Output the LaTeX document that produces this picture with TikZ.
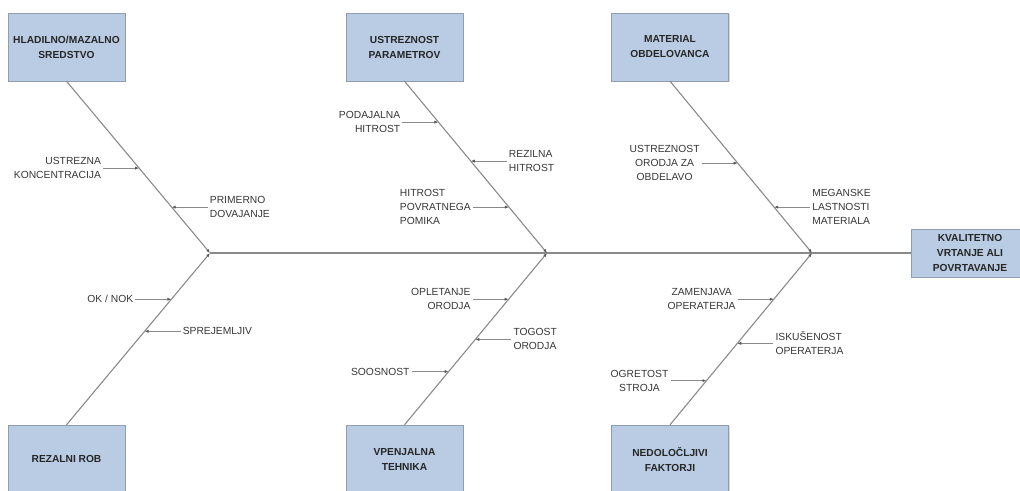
\documentclass[tikz,border=0pt]{standalone}
\usepackage{fontspec}
\setmainfont{Liberation Sans}
\usetikzlibrary{shapes,arrows.meta,positioning,shadows}

\definecolor{boxfill}{HTML}{B9CCE3}
\definecolor{boxline}{HTML}{8E9DB0}
\definecolor{boneline}{HTML}{8A8A8A}
\definecolor{labeltext}{HTML}{363636}

\begin{document}
\begin{tikzpicture}[x=1pt, y=-1pt, >={Latex[length=4pt,width=3.2pt,color=black!65]},
    font=\fontsize{10.3}{14}\selectfont]
    \tikzstyle{cause} = [draw=boxline, fill=boxfill, rectangle, 
    minimum width=117pt, minimum height=68pt, align=center,
    text=black!85, font=\fontsize{10.2}{15}\selectfont\bfseries,
    drop shadow={shadow xshift=1pt, shadow yshift=-1pt, opacity=0.3}]
    \tikzstyle{effect} = [cause, minimum width=118pt, minimum height=48pt]
    \tikzstyle{bone} = [draw=boneline, line width=1.1pt]
    \tikzstyle{sub} = [draw=boneline, line width=0.8pt, ->]
    \tikzstyle{lbl} = [inner sep=2pt, text=labeltext]

    \useasboundingbox (0,0) rectangle (1020,490);

    \node [cause] (hladilno) at (66.5,47) {HLADILNO/MAZALNO\\SREDSTVO};
    \node [cause] (parametri) at (404.5,47) {USTREZNOST\\PARAMETROV};
    \node [cause] (material) at (670,47) {MATERIAL\\OBDELOVANCA};
    \node [cause] (rezalni) at (66.5,459) {REZALNI ROB};
    \node [cause] (vpenjalna) at (404.5,459) {VPENJALNA\\TEHNIKA};
    \node [cause] (faktorji) at (670,459) {NEDOLOČLJIVI\\FAKTORJI};
    \node [effect] (kvaliteta) at (970,253) {KVALITETNO\\VRTANJE ALI\\POVRTAVANJE};

    \coordinate (j1) at (210,253);
    \coordinate (j2) at (547,253);
    \coordinate (j3) at (812,253);

    % spine and bones
    \draw [bone] (j1) -- (kvaliteta.west);
    \draw [bone,->] (hladilno.south) -- (j1);
    \draw [bone,->] (rezalni.north) -- (j1);
    \draw [bone,->] (parametri.south) -- (j2);
    \draw [bone,->] (vpenjalna.north) -- (j2);
    \draw [bone,->] (material.south) -- (j3);
    \draw [bone,->] (faktorji.north) -- (j3);

    % points on the bones
    \path (hladilno.south) -- (j1) coordinate [pos=0.506] (k1) coordinate [pos=0.733] (k2);
    \path (rezalni.north) -- (j1) coordinate [pos=0.731] (k3) coordinate [pos=0.544] (k4);
    \path (parametri.south) -- (j2) coordinate [pos=0.238] (p1) coordinate [pos=0.465] (p2) coordinate [pos=0.733] (p3);
    \path (vpenjalna.north) -- (j2) coordinate [pos=0.731] (v1) coordinate [pos=0.497] (v2) coordinate [pos=0.31] (v3);
    \path (material.south) -- (j3) coordinate [pos=0.477] (m1) coordinate [pos=0.733] (m2);
    \path (faktorji.north) -- (j3) coordinate [pos=0.731] (f1) coordinate [pos=0.474] (f2) coordinate [pos=0.257] (f3);

    \node [lbl, left=36pt of k1, align=right] (koncentracija) {USTREZNA\\KONCENTRACIJA};
    \node [lbl, right=36pt of k2, align=left] (dovajanje) {PRIMERNO\\DOVAJANJE};
    \node [lbl, left=36pt of k3] (oknok) {OK / NOK};
    \node [lbl, right=36pt of k4] (sprejemljiv) {SPREJEMLJIV};

    \node [lbl, left=36pt of p1, align=right] (podajalna) {PODAJALNA\\HITROST};
    \node [lbl, right=36pt of p2, align=left] (rezilna) {REZILNA\\HITROST};
    \node [lbl, left=36pt of p3, align=left] (povratni) {HITROST\\POVRATNEGA\\POMIKA};
    \node [lbl, left=36pt of v1, align=right] (opletanje) {OPLETANJE\\ORODJA};
    \node [lbl, right=36pt of v2, align=left] (togost) {TOGOST\\ORODJA};
    \node [lbl, left=37pt of v3] (soosnost) {SOOSNOST};

    \node [lbl, left=36pt of m1, align=center] (orodje) {USTREZNOST\\ORODJA ZA\\OBDELAVO};
    \node [lbl, right=36pt of m2, align=left] (lastnosti) {MEGANSKE\\LASTNOSTI\\MATERIALA};
    \node [lbl, left=36pt of f1, align=center] (zamenjava) {ZAMENJAVA\\OPERATERJA};
    \node [lbl, right=36pt of f2, align=left] (izkusnje) {ISKUŠENOST\\OPERATERJA};
    \node [lbl, left=36pt of f3, align=center] (ogretost) {OGRETOST\\STROJA};

    \foreach \from/\to in {koncentracija/k1, dovajanje/k2, oknok/k3, sprejemljiv/k4,
        podajalna/p1, rezilna/p2, povratni/p3, opletanje/v1, togost/v2, soosnost/v3,
        orodje/m1, lastnosti/m2, zamenjava/f1, izkusnje/f2, ogretost/f3}
        \draw [sub] (\from) -- (\to);
\end{tikzpicture}
\end{document}
